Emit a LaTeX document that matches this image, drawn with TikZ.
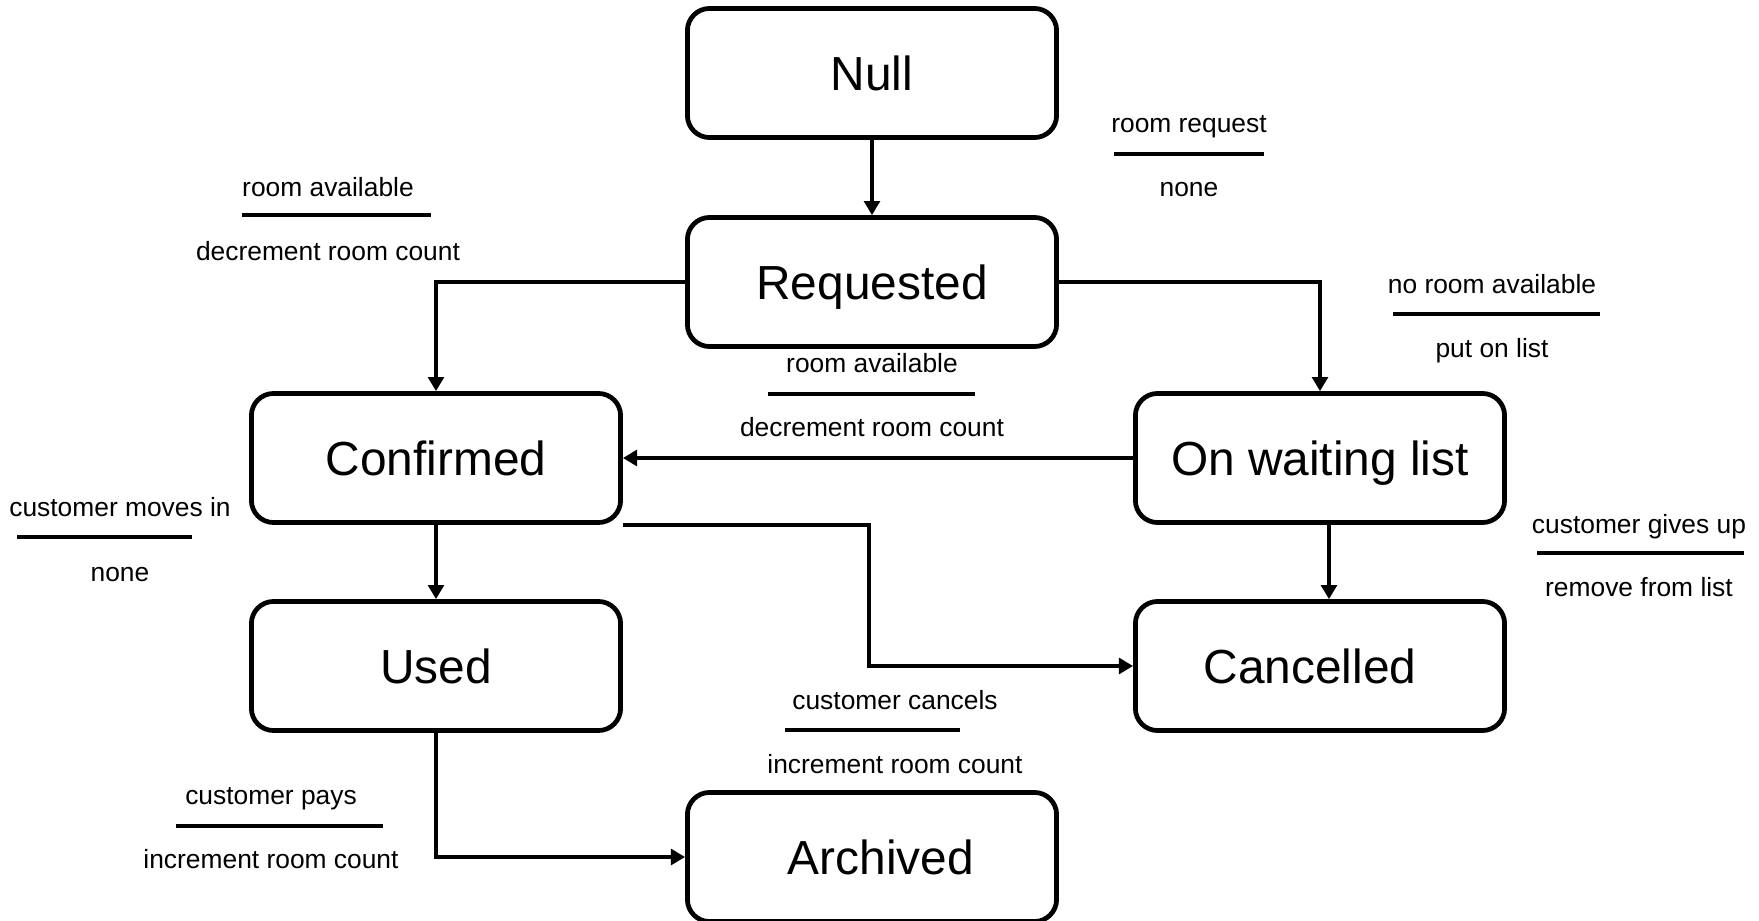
\documentclass[tikz,border=0pt]{standalone}
\usepackage{fontspec}
\setmainfont{Liberation Sans}
\usetikzlibrary{arrows.meta}
\begin{document}
\begin{tikzpicture}[x=0.01cm, y=-0.01cm,
    state/.style={draw, line width=1.35pt, rounded corners=6.3pt, minimum width=3.69cm, minimum height=1.29cm, inner sep=0pt, text height=10.2pt, text depth=0pt, font=\fontsize{13.6}{16}\selectfont},
    lbl/.style={inner sep=0pt, text height=7.2pt, text depth=0pt, font=\fontsize{7.5}{9}\selectfont},
    sep/.style={line width=0.95pt},
    trans/.style={line width=0.95pt, -{Triangle[length=4pt,width=4.5pt]}}]
        \useasboundingbox (0,0) rectangle (1759,921);
        %\draw [help lines] (0,0) grid (1759,921);

        % states
        \node [state] (null) at (872,73) {Null} ;
        \node [state] (req) at (872,282) {Requested} ;
        \node [state] (conf) at (436,458) {Confirmed} ;
        \node [state] (wait) at (1320,458) {On waiting list} ;
        \node [state] (used) at (436,666) {Used} ;
        \node [state] (canc) at (1320,666) {\hspace*{-0.2cm}Cancelled} ;
        \node [state] (arch) at (872,857) {Archived\hspace*{-0.18cm}} ;

        % transitions
        \coordinate (cbend) at (869,600);
        \draw [trans] (null) -- (req);
        \draw [trans] (req.west) -| (conf.north);
        \draw [trans] (req.east) -| (wait.north);
        \draw [trans] (wait.west) -- (conf.east);
        \draw [trans] (conf) -- (used);
        \draw [trans] (conf.south east) -| (cbend) |- (canc.west);
        \draw [trans] ([xshift=0.09cm]wait.south) -- ([xshift=0.09cm]canc.north);
        \draw [trans] (used.south) |- (arch.west);

        % event / action labels
        \node [lbl] (ev1) at (1189,119.5) {room request} ;
        \draw [sep] (1114,154) -- (1264,154);
        \node [lbl] (ac1) at (1189,183.5) {none} ;

        \node [lbl] (ev2) at (328,183.5) {room available} ;
        \draw [sep] (242,215) -- (431,215);
        \node [lbl] (ac2) at (328,247.5) {decrement room count} ;

        \node [lbl] (ev3) at (1492,280.5) {no room available} ;
        \draw [sep] (1393,314) -- (1600,314);
        \node [lbl] (ac3) at (1492,344.5) {put on list} ;

        \node [lbl] (ev4) at (872,359.5) {room available} ;
        \draw [sep] (768,394) -- (975,394);
        \node [lbl] (ac4) at (872,423.5) {decrement room count} ;

        \node [lbl] (ev5) at (120,503.5) {customer moves in} ;
        \draw [sep] (17,537) -- (192,537);
        \node [lbl] (ac5) at (120,568.5) {none} ;

        \node [lbl] (ev6) at (1639,520.5) {customer gives up} ;
        \draw [sep] (1537,553) -- (1744,553);
        \node [lbl] (ac6) at (1639,583.5) {remove from list} ;

        \node [lbl] (ev7) at (895,696.5) {customer cancels} ;
        \draw [sep] (785,730) -- (960,730);
        \node [lbl] (ac7) at (895,760.5) {increment room count} ;

        \node [lbl] (ev8) at (271,791.5) {customer pays} ;
        \draw [sep] (176,826) -- (383,826);
        \node [lbl] (ac8) at (271,855.5) {increment room count} ;
    \end{tikzpicture}
\end{document}
